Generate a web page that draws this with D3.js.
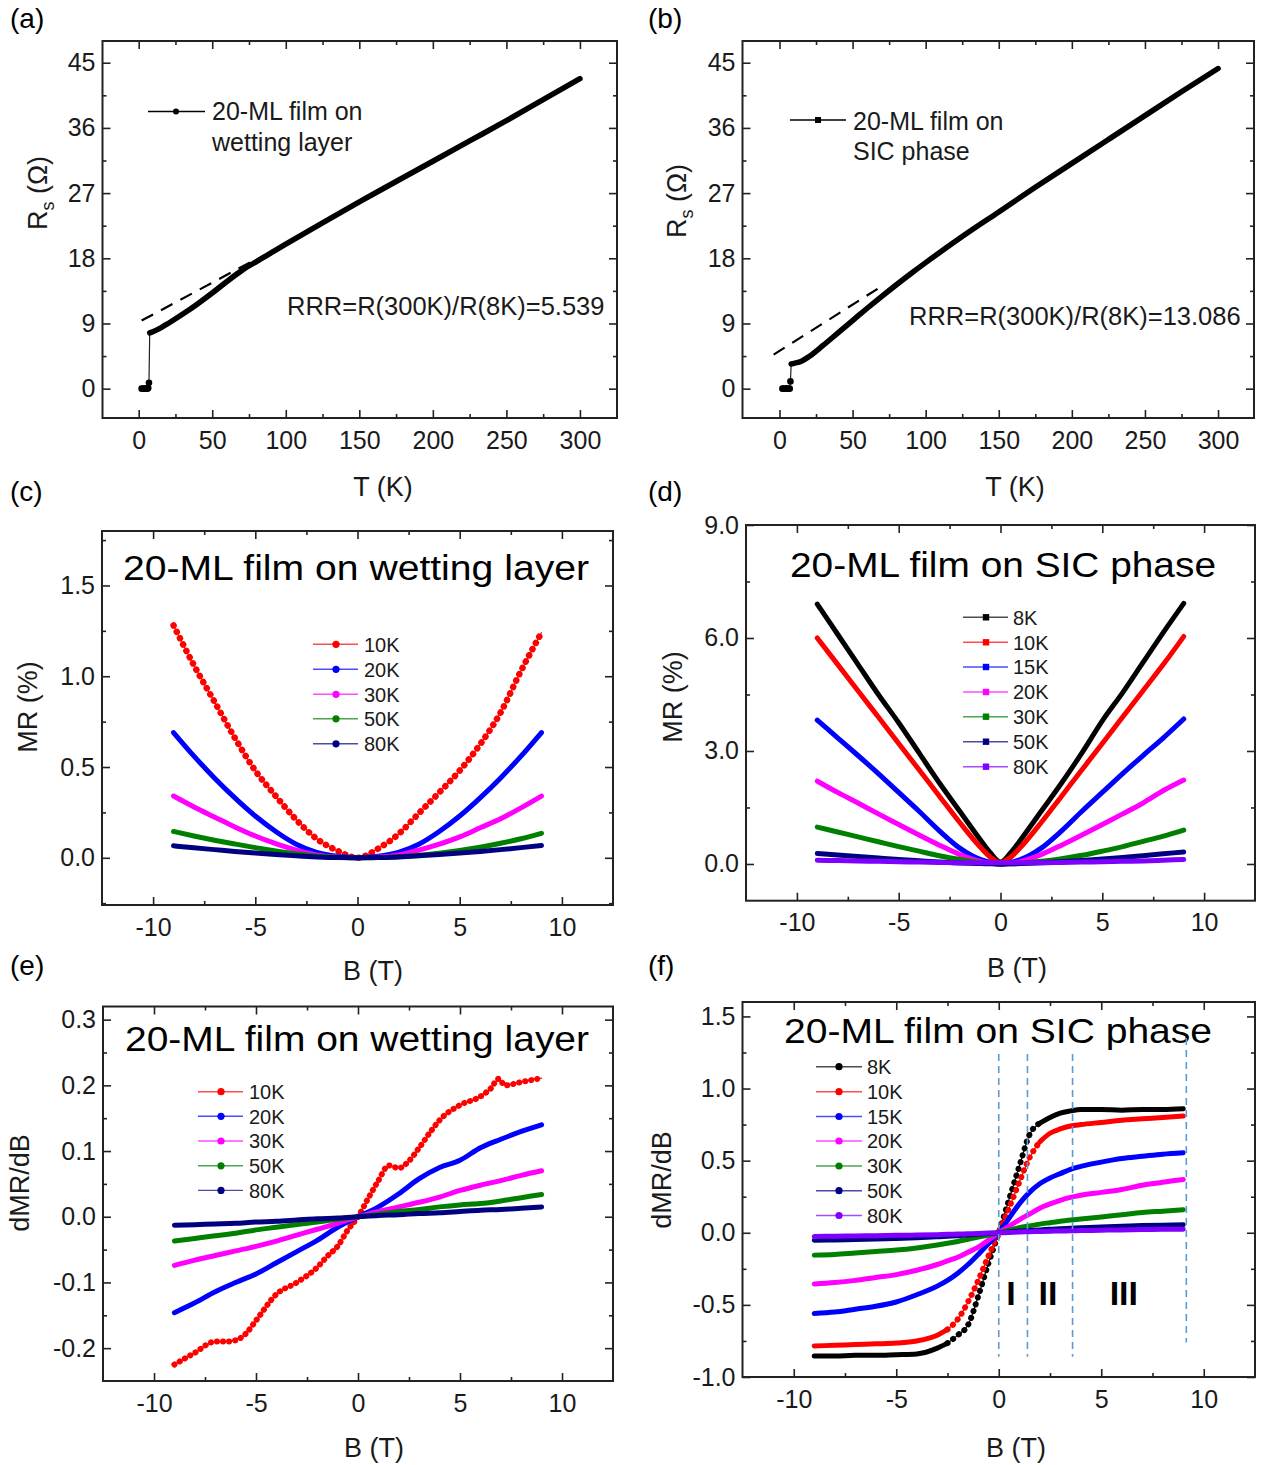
<!DOCTYPE html>
<html>
<head>
<meta charset="utf-8">
<script src="https://cdnjs.cloudflare.com/ajax/libs/d3/7.8.5/d3.min.js"></script>
<style>
  body { margin: 0; background: #fff; }
  text { font-family: "Liberation Sans", Arial, sans-serif; fill: #1a1a1a; }
</style>
</head>
<body>
<svg id="fig" width="1266" height="1465"></svg>
<script>
// ---------- data ----------
// (a) 20-ML film on wetting layer, R_s vs T
const tempA = [2, 3, 4, 5, 6, 6.5, 7, 7.5, 10, 15, 20, 30, 40, 50, 60, 70, 80, 90, 100, 125, 150, 175, 200, 225, 250, 275, 300];
const rsA = [0, 0, 0, 0, 0, 0.1, 0.8, 7.7, 7.9, 8.4, 9.0, 10.3, 11.7, 13.2, 14.8, 16.3, 17.55, 18.75, 19.95, 22.9, 25.8, 28.6, 31.4, 34.2, 37.0, 39.9, 42.8];
const fitA = [[2, 9.4], [80, 17.9]];
// (b) 20-ML film on SIC phase
const tempB = [2, 3, 4, 5, 6, 7, 7.5, 8, 10, 15, 20, 30, 40, 50, 60, 70, 80, 90, 100, 125, 150, 175, 200, 225, 250, 275, 300];
const rsB = [0, 0, 0, 0, 0, 0, 1.0, 3.4, 3.5, 3.8, 4.4, 6.0, 7.7, 9.4, 11.1, 12.75, 14.35, 15.9, 17.4, 21.0, 24.4, 27.8, 31.1, 34.4, 37.7, 41.0, 44.2];
const fitB = [[-4, 4.7], [68, 13.9]];

// (c) MR (%) vs B, wetting layer
const fieldC = [-9, -8, -7, -6, -5, -4, -3, -2, -1, 0, 1, 2, 3, 4, 5, 6, 7, 8, 9];
const tempsC = ["10K", "20K", "30K", "50K", "80K"];
const colorsC = ["#ff0000", "#0000ff", "#ff00ff", "#008000", "#000080"];
const mrC10 = [1.28, 1.06, 0.86, 0.66, 0.48, 0.34, 0.21, 0.105, 0.04, 0, 0.05, 0.13, 0.245, 0.36, 0.48, 0.625, 0.8, 1.03, 1.24];
const mrC20 = [0.69, 0.56, 0.44, 0.33, 0.23, 0.145, 0.075, 0.03, 0.008, 0, 0.008, 0.03, 0.075, 0.145, 0.23, 0.33, 0.44, 0.56, 0.69];
const mrC30 = [0.34, 0.28, 0.225, 0.17, 0.12, 0.078, 0.042, 0.016, 0.004, 0, 0.004, 0.016, 0.042, 0.075, 0.115, 0.165, 0.215, 0.275, 0.34];
const mrC50 = [0.145, 0.12, 0.097, 0.076, 0.056, 0.038, 0.022, 0.01, 0.003, 0, 0.002, 0.006, 0.014, 0.025, 0.04, 0.058, 0.08, 0.105, 0.135];
const mrC80 = [0.066, 0.055, 0.045, 0.035, 0.026, 0.018, 0.011, 0.005, 0.001, 0, 0.001, 0.005, 0.011, 0.018, 0.026, 0.035, 0.045, 0.056, 0.068];

// (d) MR (%) vs B, SIC phase
const fieldD = [-9, -8, -7, -6, -5, -4, -3, -2, -1, -0.5, 0, 0.5, 1, 2, 3, 4, 5, 6, 7, 8, 9];
const tempsD = ["8K", "10K", "15K", "20K", "30K", "50K", "80K"];
const colorsD = ["#000000", "#ff0000", "#0000ff", "#ff00ff", "#008000", "#000080", "#8000ff"];
const mrD8 = [6.9, 6.1, 5.3, 4.5, 3.75, 2.95, 2.15, 1.4, 0.65, 0.3, 0.05, 0.3, 0.65, 1.4, 2.15, 2.95, 3.8, 4.55, 5.35, 6.15, 6.92];
const mrD10 = [6.0, 5.3, 4.6, 3.9, 3.2, 2.5, 1.8, 1.1, 0.45, 0.18, 0.03, 0.18, 0.45, 1.1, 1.8, 2.5, 3.2, 3.9, 4.6, 5.3, 6.04];
const mrD15 = [3.82, 3.35, 2.88, 2.4, 1.9, 1.4, 0.88, 0.42, 0.12, 0.04, 0, 0.04, 0.12, 0.42, 0.88, 1.4, 1.9, 2.4, 2.88, 3.35, 3.85];
const mrD20 = [2.2, 1.9, 1.62, 1.33, 1.05, 0.77, 0.5, 0.25, 0.07, 0.02, 0, 0.02, 0.07, 0.25, 0.5, 0.77, 1.05, 1.33, 1.62, 1.95, 2.23];
const mrD30 = [0.98, 0.85, 0.72, 0.59, 0.46, 0.34, 0.22, 0.12, 0.04, 0.01, 0, 0.005, 0.02, 0.07, 0.14, 0.23, 0.34, 0.46, 0.6, 0.74, 0.9];
const mrD50 = [0.28, 0.24, 0.2, 0.16, 0.12, 0.085, 0.05, 0.025, 0.01, 0.005, 0, 0.005, 0.01, 0.03, 0.06, 0.09, 0.13, 0.17, 0.22, 0.27, 0.32];
const mrD80 = [0.1, 0.09, 0.08, 0.07, 0.06, 0.05, 0.04, 0.03, 0.03, 0.03, 0.03, 0.03, 0.03, 0.03, 0.04, 0.05, 0.06, 0.07, 0.08, 0.1, 0.12];

// (e) dMR/dB vs B, wetting layer
const fieldE10 = [-9, -8, -7, -6.5, -6, -5.5, -5, -4, -3, -2, -1.5, -1, -0.5, 0, 0.5, 1, 1.5, 2, 2.5, 3, 3.5, 4, 5, 6, 6.5, 6.9, 7.2, 8, 9];
const dmrE10 = [-0.225, -0.207, -0.19, -0.19, -0.188, -0.178, -0.158, -0.118, -0.1, -0.077, -0.06, -0.045, -0.02, 0, 0.028, 0.055, 0.078, 0.074, 0.085, 0.105, 0.127, 0.147, 0.17, 0.183, 0.195, 0.21, 0.2, 0.205, 0.211];
const fieldE = [-9, -8, -7, -6, -5, -4, -3, -2, -1, 0, 1, 2, 3, 4, 5, 6, 7, 8, 9];
const dmrE20 = [-0.146, -0.131, -0.114, -0.1, -0.087, -0.07, -0.053, -0.036, -0.016, 0, 0.015, 0.035, 0.058, 0.075, 0.086, 0.105, 0.118, 0.13, 0.14];
const dmrE30 = [-0.074, -0.066, -0.059, -0.052, -0.045, -0.037, -0.028, -0.019, -0.01, 0, 0.008, 0.015, 0.022, 0.03, 0.04, 0.048, 0.055, 0.063, 0.07];
const dmrE50 = [-0.037, -0.033, -0.029, -0.025, -0.02, -0.016, -0.012, -0.008, -0.004, 0, 0.004, 0.008, 0.011, 0.015, 0.018, 0.02, 0.024, 0.029, 0.034];
const dmrE80 = [-0.013, -0.012, -0.011, -0.01, -0.008, -0.007, -0.005, -0.003, -0.002, 0, 0.002, 0.003, 0.005, 0.006, 0.008, 0.01, 0.011, 0.013, 0.015];

// (f) dMR/dB vs B, SIC phase
const fieldF = [-9, -8, -7, -6, -5, -4, -3, -2.5, -2, -1.5, -1, -0.5, 0, 0.5, 1, 1.5, 2, 2.5, 3, 3.5, 4, 5, 6, 7, 8, 9];
const dmrF8 = [-0.855, -0.855, -0.85, -0.85, -0.845, -0.84, -0.8, -0.765, -0.71, -0.64, -0.44, -0.21, 0, 0.23, 0.46, 0.68, 0.76, 0.8, 0.83, 0.845, 0.855, 0.855, 0.85, 0.855, 0.855, 0.86];
const dmrF10 = [-0.785, -0.78, -0.775, -0.77, -0.765, -0.75, -0.71, -0.67, -0.6, -0.48, -0.33, -0.16, 0, 0.17, 0.35, 0.52, 0.63, 0.69, 0.72, 0.74, 0.75, 0.765, 0.78, 0.79, 0.8, 0.81];
const dmrF15 = [-0.56, -0.55, -0.53, -0.51, -0.48, -0.43, -0.37, -0.33, -0.28, -0.22, -0.15, -0.075, 0, 0.1, 0.2, 0.28, 0.34, 0.38, 0.41, 0.44, 0.46, 0.49, 0.515, 0.53, 0.545, 0.555];
const dmrF20 = [-0.355, -0.345, -0.33, -0.31, -0.29, -0.26, -0.22, -0.195, -0.17, -0.135, -0.1, -0.05, 0, 0.045, 0.09, 0.13, 0.17, 0.2, 0.225, 0.245, 0.26, 0.28, 0.3, 0.33, 0.35, 0.37];
const dmrF30 = [-0.155, -0.15, -0.14, -0.13, -0.12, -0.105, -0.085, -0.073, -0.06, -0.045, -0.03, -0.015, 0, 0.018, 0.035, 0.048, 0.06, 0.07, 0.08, 0.088, 0.095, 0.11, 0.125, 0.14, 0.15, 0.16];
const dmrF50 = [-0.052, -0.05, -0.047, -0.044, -0.04, -0.035, -0.028, -0.024, -0.02, -0.015, -0.01, -0.005, 0, 0.006, 0.012, 0.016, 0.02, 0.024, 0.028, 0.031, 0.034, 0.04, 0.045, 0.05, 0.053, 0.056];
const dmrF80 = [-0.025, -0.024, -0.022, -0.02, -0.018, -0.016, -0.013, -0.011, -0.009, -0.007, -0.005, -0.002, 0, 0.002, 0.005, 0.007, 0.009, 0.011, 0.012, 0.014, 0.015, 0.018, 0.02, 0.022, 0.024, 0.025];
const regionBounds = [0, 1.4, 3.6, 9.15];
const regionNames = ["I", "II", "III"];
const regionCenters = [0.6, 2.4, 6.1];

// ---------- drawing ----------
const FONT = '"Liberation Sans", Arial, sans-serif';
const svg = d3.select("svg#fig");
const fmt1 = (d) => d3.format(".1f")(d).replace("\u2212", "-");
const fmtInt = (d) => d3.format("d")(d).replace("\u2212", "-");
const range = (a, b, s) => d3.range(a, b + s / 2, s);

function makePanel(cfg) {
  const x = d3.scaleLinear().domain(cfg.xDom).range([cfg.x0, cfg.x1]);
  const y = d3.scaleLinear().domain(cfg.yDom).range([cfg.y1, cfg.y0]);
  const g = svg.append("g");
  const plot = g.append("g");

  function axis(gen, tr, vals, size, fmt, pad) {
    const a = g
      .append("g")
      .attr("transform", tr)
      .call(
        gen
          .tickValues(vals)
          .tickSize(size)
          .tickSizeOuter(0)
          .tickPadding(pad)
          .tickFormat(fmt)
      );
    // d3 sets its own font on the group, override after the call
    a.attr("font-family", FONT).attr("font-size", 25);
    a.select(".domain").remove();
    a.selectAll("line").attr("stroke", "#222").attr("stroke-width", 1.6);
    a.selectAll("text").attr("fill", "#1a1a1a");
    return a;
  }
  const none = () => "";
  // major + minor, all four sides, ticks pointing in
  axis(d3.axisBottom(x), `translate(0,${cfg.y1})`, cfg.xTicks, -8, fmtInt, 13);
  axis(d3.axisBottom(x), `translate(0,${cfg.y1})`, cfg.xMinor, -4, none, 0);
  axis(d3.axisTop(x), `translate(0,${cfg.y0})`, cfg.xTicks, -8, none, 0);
  axis(d3.axisTop(x), `translate(0,${cfg.y0})`, cfg.xMinor, -4, none, 0);
  axis(d3.axisLeft(y), `translate(${cfg.x0},0)`, cfg.yTicks, -8, cfg.yFmt, 7);
  axis(d3.axisLeft(y), `translate(${cfg.x0},0)`, cfg.yMinor, -4, none, 0);
  axis(d3.axisRight(y), `translate(${cfg.x1},0)`, cfg.yTicks, -8, none, 0);
  axis(d3.axisRight(y), `translate(${cfg.x1},0)`, cfg.yMinor, -4, none, 0);

  g.append("rect")
    .attr("x", cfg.x0)
    .attr("y", cfg.y0)
    .attr("width", cfg.x1 - cfg.x0)
    .attr("height", cfg.y1 - cfg.y0)
    .attr("fill", "none")
    .attr("stroke", "#222")
    .attr("stroke-width", 2);

  // panel letter
  svg
    .append("text")
    .attr("x", cfg.label[1])
    .attr("y", cfg.label[2])
    .attr("font-family", '"Liberation Serif", "Times New Roman", serif')
    .attr("font-size", 28)
    .style("fill", "#000")
    .text(cfg.label[0]);

  // x title
  g.append("text")
    .attr("x", cfg.xTitle[1])
    .attr("y", cfg.xTitle[2])
    .attr("text-anchor", "middle")
    .attr("font-size", 27)
    .text(cfg.xTitle[0]);

  // y title (rotated)
  const yt = g
    .append("text")
    .attr("transform", `translate(${cfg.yTitle[1]},${cfg.yTitle[2]}) rotate(-90)`)
    .attr("text-anchor", "middle")
    .attr("font-size", 27);
  if (cfg.yTitle[0] === "Rs") {
    yt.append("tspan").text("R");
    yt.append("tspan").attr("font-size", 18).attr("dy", 7).text("s");
    yt.append("tspan").attr("dy", -7).text(" (\u03A9)");
  } else {
    yt.text(cfg.yTitle[0]);
  }

  if (cfg.title) {
    g.append("text")
      .attr("x", cfg.title[1])
      .attr("y", cfg.title[2])
      .attr("font-size", 35)
      .attr("textLength", cfg.title[3])
      .attr("lengthAdjust", "spacingAndGlyphs")
      .style("fill", "#000")
      .text(cfg.title[0]);
  }
  return { x, y, g, plot, cfg };
}

function drawRT(p, temps, rs, nSC, fit) {
  const pts = temps.map((t, i) => [t, rs[i]]);
  const line = d3.line().x((d) => p.x(d[0])).y((d) => p.y(d[1]));
  p.plot
    .append("path")
    .attr("d", line(fit))
    .attr("fill", "none")
    .attr("stroke", "#000")
    .attr("stroke-width", 2.2)
    .attr("stroke-dasharray", "13,9");
  p.plot
    .append("path")
    .attr("d", line(pts))
    .attr("fill", "none")
    .attr("stroke", "#222")
    .attr("stroke-width", 1.2);
  p.plot
    .append("path")
    .attr("d", line.curve(d3.curveMonotoneX)(pts.slice(nSC)))
    .attr("fill", "none")
    .attr("stroke", "#000")
    .attr("stroke-width", 5.5)
    .attr("stroke-linecap", "round");
  p.plot
    .selectAll("circle.sc")
    .data(pts.slice(0, nSC))
    .join("circle")
    .attr("cx", (d) => p.x(d[0]))
    .attr("cy", (d) => p.y(d[1]))
    .attr("r", 3.3)
    .attr("fill", "#000");
}

function drawSeries(p, xs, ys, color, opt = {}) {
  const pts = xs.map((b, i) => [b, ys[i]]);
  const line = d3
    .line()
    .x((d) => p.x(d[0]))
    .y((d) => p.y(d[1]))
    .curve(d3.curveMonotoneX);
  const path = (data, w) =>
    p.plot
      .append("path")
      .attr("d", line(data))
      .attr("fill", "none")
      .attr("stroke", color)
      .attr("stroke-width", w)
      .attr("stroke-linecap", "round")
      .attr("stroke-linejoin", "round");
  if (opt.dotted) {
    path(pts, 1.2);
    path(pts, opt.w || 6).attr("stroke-dasharray", `0.1,${opt.gap}`);
  } else if (opt.dotRange) {
    const [lo, hi] = opt.dotRange;
    path(pts, 1.2);
    path(pts.filter((d) => d[0] <= lo), 5);
    path(pts.filter((d) => d[0] >= hi), 5);
    path(pts.filter((d) => d[0] >= lo && d[0] <= hi), 6).attr("stroke-dasharray", `0.1,${opt.gap}`);
  } else {
    path(pts, opt.w || 5);
  }
}

function drawLegend(p, labels, colors, L) {
  labels.forEach((lab, i) => {
    const yy = L.ys[i];
    p.g.append("line")
      .attr("x1", L.x0).attr("x2", L.x1)
      .attr("y1", yy).attr("y2", yy)
      .attr("stroke", colors[i])
      .attr("stroke-opacity", 0.7)
      .attr("stroke-width", 1.4);
    if (L.shape === "square") {
      p.g.append("rect")
        .attr("x", L.xm - 3.2).attr("y", yy - 3.2)
        .attr("width", 6.4).attr("height", 6.4)
        .attr("fill", colors[i]);
    } else {
      p.g.append("circle").attr("cx", L.xm).attr("cy", yy).attr("r", 3.6).attr("fill", colors[i]);
    }
    p.g.append("text")
      .attr("x", L.tx).attr("y", yy)
      .attr("dy", "0.36em")
      .attr("font-size", L.fs)
      .text(lab);
  });
}

// ---- (a) ----
const pa = makePanel({
  x0: 102.5, x1: 617, y0: 41, y1: 418,
  xDom: [-24.6, 325.2], yDom: [-4.05, 48.0],
  xTicks: range(0, 300, 50), xMinor: range(25, 275, 50),
  yTicks: range(0, 45, 9), yMinor: range(4.5, 40.5, 9), yFmt: fmtInt,
  label: ["(a)", 10, 28], xTitle: ["T (K)", 383, 496], yTitle: ["Rs", 47, 193],
});
drawRT(pa, tempA, rsA, 7, fitA);
pa.g.append("line").attr("x1", 148).attr("x2", 205).attr("y1", 111.5).attr("y2", 111.5).attr("stroke", "#000").attr("stroke-width", 1.3);
pa.g.append("circle").attr("cx", 176).attr("cy", 111.5).attr("r", 3).attr("fill", "#000");
pa.g.append("text").attr("x", 212).attr("y", 120).attr("font-size", 25).text("20-ML film on");
pa.g.append("text").attr("x", 212).attr("y", 151).attr("font-size", 25).text("wetting layer");
pa.g.append("text").attr("x", 287).attr("y", 315).attr("font-size", 25.5).text("RRR=R(300K)/R(8K)=5.539");

// ---- (b) ----
const pb = makePanel({
  x0: 742.5, x1: 1254, y0: 41, y1: 418,
  xDom: [-25.3, 324.6], yDom: [-4.05, 48.0],
  xTicks: range(0, 300, 50), xMinor: range(25, 275, 50),
  yTicks: range(0, 45, 9), yMinor: range(4.5, 40.5, 9), yFmt: fmtInt,
  label: ["(b)", 648, 28], xTitle: ["T (K)", 1015, 496], yTitle: ["Rs", 686, 201],
});
drawRT(pb, tempB, rsB, 7, fitB);
pb.g.append("line").attr("x1", 790).attr("x2", 846).attr("y1", 120).attr("y2", 120).attr("stroke", "#000").attr("stroke-width", 1.3);
pb.g.append("rect").attr("x", 815).attr("y", 117).attr("width", 6).attr("height", 6).attr("fill", "#000");
pb.g.append("text").attr("x", 853).attr("y", 130).attr("font-size", 25).text("20-ML film on");
pb.g.append("text").attr("x", 853).attr("y", 160).attr("font-size", 25).text("SIC phase");
pb.g.append("text").attr("x", 909).attr("y", 325).attr("font-size", 25.5).text("RRR=R(300K)/R(8K)=13.086");

// ---- (c) ----
const pc = makePanel({
  x0: 102, x1: 613, y0: 531, y1: 905,
  xDom: [-12.5, 12.5], yDom: [-0.26, 1.8],
  xTicks: range(-10, 10, 5), xMinor: [-7.5, -2.5, 2.5, 7.5],
  yTicks: range(0, 1.5, 0.5), yMinor: [-0.25, 0.25, 0.75, 1.25, 1.75], yFmt: fmt1,
  label: ["(c)", 10, 501], xTitle: ["B (T)", 373, 980], yTitle: ["MR (%)", 37, 707],
  title: ["20-ML film on wetting layer", 123, 580, 466],
});
[mrC10, mrC20, mrC30, mrC50, mrC80].forEach((s, i) =>
  drawSeries(pc, fieldC, s, colorsC[i], i === 0 ? { dotted: true, gap: 7, w: 6.5 } : {})
);
drawLegend(pc, tempsC, colorsC, { x0: 313, x1: 358, xm: 336, tx: 364, ys: [644.3, 669.3, 694.3, 718.8, 743.8], shape: "circle", fs: 20 });

// ---- (d) ----
const pd = makePanel({
  x0: 746, x1: 1255, y0: 525, y1: 900.7,
  xDom: [-12.5, 12.5], yDom: [-0.975, 9.0],
  xTicks: range(-10, 10, 5), xMinor: [-7.5, -2.5, 2.5, 7.5],
  yTicks: range(0, 9, 3), yMinor: [1.5, 4.5, 7.5], yFmt: fmt1,
  label: ["(d)", 648, 501], xTitle: ["B (T)", 1017, 977], yTitle: ["MR (%)", 682, 697],
  title: ["20-ML film on SIC phase", 790, 577, 426],
});
[mrD8, mrD10, mrD15, mrD20, mrD30, mrD50, mrD80].forEach((s, i) => drawSeries(pd, fieldD, s, colorsD[i], { w: 5 }));
drawLegend(pd, tempsD, colorsD, { x0: 963, x1: 1008, xm: 986, tx: 1013, ys: [617.3, 642.3, 667, 692, 716.7, 741.7, 766.7], shape: "square", fs: 20 });

// ---- (e) ----
const pe = makePanel({
  x0: 103, x1: 613, y0: 1006.5, y1: 1381,
  xDom: [-12.5, 12.5], yDom: [-0.25, 0.32],
  xTicks: range(-10, 10, 5), xMinor: [-7.5, -2.5, 2.5, 7.5],
  yTicks: range(-0.2, 0.3, 0.1), yMinor: [-0.15, -0.05, 0.05, 0.15, 0.25], yFmt: fmt1,
  label: ["(e)", 10, 975], xTitle: ["B (T)", 374, 1457], yTitle: ["dMR/dB", 29, 1183],
  title: ["20-ML film on wetting layer", 125, 1051, 464],
});
drawSeries(pe, fieldE10, dmrE10, colorsC[0], { dotted: true, gap: 6, w: 6 });
[dmrE20, dmrE30, dmrE50, dmrE80].forEach((s, i) => drawSeries(pe, fieldE, s, colorsC[i + 1]));
drawLegend(pe, tempsC, colorsC, { x0: 198, x1: 243, xm: 221, tx: 249, ys: [1091.7, 1116.3, 1141, 1165.8, 1190.4], shape: "circle", fs: 20 });

// ---- (f) ----
const pf = makePanel({
  x0: 742.5, x1: 1255, y0: 1002, y1: 1377,
  xDom: [-12.5, 12.5], yDom: [-1.0, 1.6],
  xTicks: range(-10, 10, 5), xMinor: [-7.5, -2.5, 2.5, 7.5],
  yTicks: range(-1.0, 1.5, 0.5), yMinor: [-0.75, -0.25, 0.25, 0.75, 1.25], yFmt: fmt1,
  label: ["(f)", 648, 975], xTitle: ["B (T)", 1016, 1457], yTitle: ["dMR/dB", 671, 1180],
  title: ["20-ML film on SIC phase", 784, 1043, 428],
});
const seriesF = [dmrF8, dmrF10, dmrF15, dmrF20, dmrF30, dmrF50, dmrF80];
seriesF.forEach((s, i) =>
  drawSeries(pf, fieldF, s, colorsD[i], i < 2 ? { dotRange: [-2.5, 2], gap: 7 } : {})
);
// region guides
regionBounds.forEach((b, i) => {
  const top = i === 3 ? 1.35 : 1.24;
  const bot = i === 3 ? -0.76 : -0.86;
  pf.g.append("line")
    .attr("x1", pf.x(b)).attr("x2", pf.x(b))
    .attr("y1", pf.y(top)).attr("y2", pf.y(bot))
    .attr("stroke", "#5b9bd5").attr("stroke-width", 1.6)
    .attr("stroke-dasharray", "7,5");
});
regionNames.forEach((n, i) => {
  pf.g.append("text")
    .attr("x", pf.x(regionCenters[i])).attr("y", 1305)
    .attr("text-anchor", "middle")
    .attr("font-size", 34).attr("font-weight", "bold")
    .style("fill", "#000")
    .text(n);
});
drawLegend(pf, tempsD, colorsD, { x0: 816, x1: 862, xm: 839, tx: 867, ys: [1066.7, 1091.7, 1116.5, 1141, 1166, 1190.7, 1215.5], shape: "circle", fs: 20 });
</script>
</body>
</html>
